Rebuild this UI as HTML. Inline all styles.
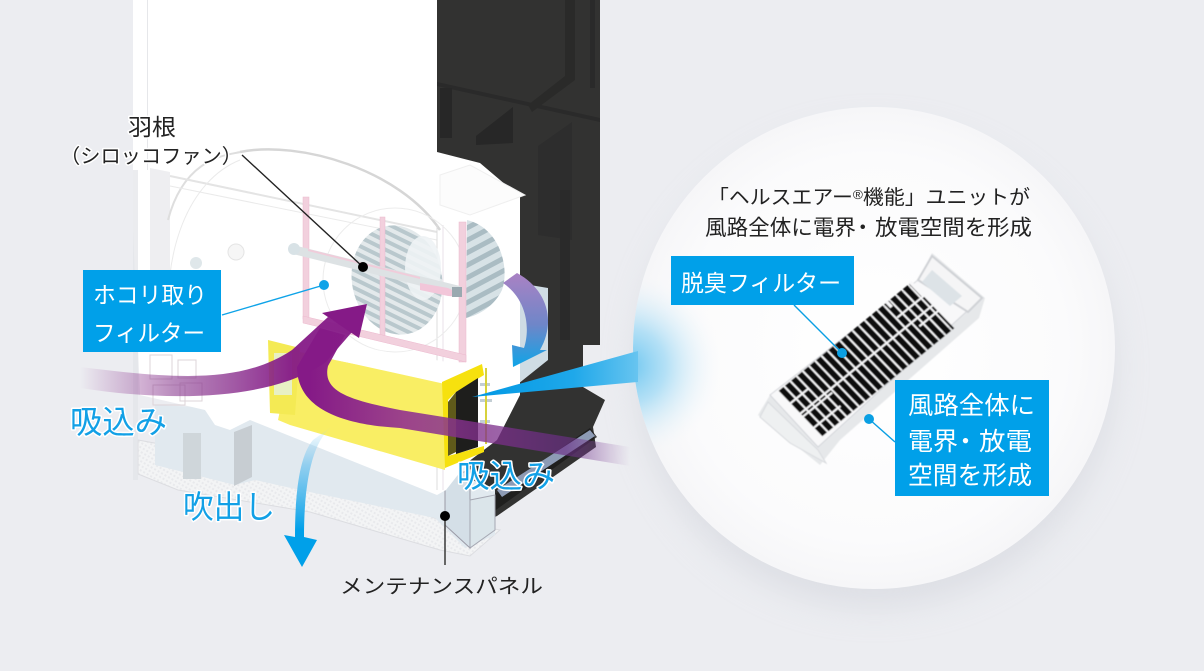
<!DOCTYPE html>
<html lang="ja"><head><meta charset="utf-8"><title>ヘルスエアー機能</title>
<style>html,body{margin:0;padding:0;background:#ecedf1;width:1204px;height:671px;overflow:hidden}
svg{display:block}
text{font-family:"Liberation Sans","Noto Sans CJK JP",sans-serif}
.halo{paint-order:stroke;stroke:#fff;stroke-width:3px;stroke-linejoin:round}
</style></head><body>
<svg width="1204" height="671" viewBox="0 0 1204 671" xmlns="http://www.w3.org/2000/svg">
<defs>
<linearGradient id="pL" gradientUnits="userSpaceOnUse" x1="80" y1="0" x2="290" y2="0"><stop offset="0" stop-color="#8a2a8c" stop-opacity="0"/><stop offset=".45" stop-color="#8a3c90" stop-opacity=".6"/><stop offset="1" stop-color="#851a87" stop-opacity=".95"/></linearGradient>
<linearGradient id="pR" gradientUnits="userSpaceOnUse" x1="310" y1="0" x2="630" y2="0"><stop offset="0" stop-color="#851a87"/><stop offset=".3" stop-color="#92318f" stop-opacity=".9"/><stop offset=".8" stop-color="#6c2f88" stop-opacity=".65"/><stop offset="1" stop-color="#8a4da0" stop-opacity="0"/></linearGradient>
<linearGradient id="bD" gradientUnits="userSpaceOnUse" x1="0" y1="430" x2="0" y2="530"><stop offset="0" stop-color="#9ed6f3" stop-opacity=".1"/><stop offset=".35" stop-color="#7ec8ef" stop-opacity=".8"/><stop offset="1" stop-color="#00a0e9"/></linearGradient>
<linearGradient id="arc" gradientUnits="userSpaceOnUse" x1="0" y1="275" x2="0" y2="365"><stop offset="0" stop-color="#a882c4"/><stop offset=".55" stop-color="#6f86c8"/><stop offset="1" stop-color="#13a3e6"/></linearGradient>
<linearGradient id="wedge" gradientUnits="userSpaceOnUse" x1="472" y1="0" x2="642" y2="0"><stop offset="0" stop-color="#0098e4"/><stop offset=".6" stop-color="#1fa8ea"/><stop offset="1" stop-color="#6cc6f0"/></linearGradient>
<radialGradient id="glow" gradientUnits="userSpaceOnUse" cx="628" cy="366" r="95"><stop offset="0" stop-color="#6cc6f0"/><stop offset=".4" stop-color="#a8dcf5" stop-opacity=".85"/><stop offset="1" stop-color="#f9f9fa" stop-opacity="0"/></radialGradient>
<radialGradient id="cir" cx=".5" cy=".5" r=".5"><stop offset="0" stop-color="#fff"/><stop offset=".8" stop-color="#fbfbfc"/><stop offset="1" stop-color="#f6f6f8"/></radialGradient>
<filter id="sh" x="-20%" y="-20%" width="140%" height="140%"><feGaussianBlur stdDeviation="16"/></filter>
<filter id="b1"><feGaussianBlur stdDeviation=".5"/></filter>
<pattern id="fan" width="8" height="8" patternUnits="userSpaceOnUse" patternTransform="rotate(38)"><rect width="8" height="8" fill="#e3e9eb"/><rect width="8" height="4" fill="#b9c8cd"/></pattern>
<pattern id="fan2" width="10" height="11" patternUnits="userSpaceOnUse" patternTransform="rotate(-28)"><rect width="10" height="11" fill="#d7e2e6"/><rect width="10" height="5" fill="#aabcc3"/></pattern>
<pattern id="mesh" width="4" height="4" patternUnits="userSpaceOnUse" patternTransform="rotate(30)"><rect width="4" height="4" fill="#f3f4f5"/><rect width="2" height="2" fill="#e8e9ec"/></pattern>
</defs>

<rect width="1204" height="671" fill="#ecedf1"/>

<!-- dark rear unit -->
<polygon points="437,0 600,0 600,345 583,345 583,387 605,400 593,427 596,447 497,516 480,524 466,500 466,420 437,420" fill="#323231"/>
<polygon points="437,82 600,118 600,122 437,86" fill="#2a2a2a"/>
<polygon points="565,0 575,0 575,80 532,112 528,105 565,76" fill="#2a2a29"/>
<rect x="590" y="0" width="5" height="88" fill="#2a2a2a"/>
<rect x="440" y="88" width="12" height="50" fill="#272727"/>
<polygon points="476,136 513,107 513,143 476,145" fill="#272727"/>
<polygon points="538,146 572,122 572,240 538,235" fill="#2d2d2d"/>
<rect x="560" y="190" width="10" height="150" fill="#2a2a2a"/>
<polygon points="478,506 590,428 597,437 482,520" fill="#1a1a1a" opacity=".8"/>
<polygon points="497,490 590,430 595,436 502,497" fill="#8d9bb5"/>
<!-- right cut light panel -->
<polygon points="518,283 548,288 548,360 518,384" fill="#cfdce4"/>

<!-- base -->
<polygon points="138,474 178,490 310,512 440,550 470,556 500,530 440,520 300,470 138,440" fill="url(#mesh)" stroke="#dcdde1"/>
<polygon points="155,405 255,410 280,430 450,470 495,490 495,535 465,548 435,518 300,490 255,480 235,485 155,465" fill="#e1e9ef"/>
<rect x="183" y="433" width="18" height="46" fill="#cfd6da"/>
<polygon points="234,432 252,425 252,477 234,486" fill="#c7cdd2"/>
<polygon points="445,478 470,470 470,548 445,525" fill="#d4dfe7" stroke="#9a9aa6"/>
<polygon points="470,500 495,495 495,530 470,548" fill="#dbe5ea" stroke="#a5a7b2"/>

<!-- main white body -->
<polygon points="133,0 437,0 437,152 480,163 520,197 520,395 497,440 468,462 446,490 437,495 250,420 230,430 215,425 205,410 140,395 133,230" fill="#fff"/>
<rect x="147" y="0" width="1" height="170" fill="#e6e7ea"/>
<polygon points="150,168 170,172 170,345 150,330" fill="#eeeef1"/>
<rect x="133" y="170" width="5" height="310" fill="#e3e4e8" opacity=".7"/>
<path d="M240 152 C300 140 400 170 440 230" fill="none" stroke="#d6d6d6" stroke-width="2.5"/>
<path d="M168 220 C185 155 230 155 240 152" fill="none" stroke="#dedede" stroke-width="2"/>
<path d="M170 176 L437 232" fill="none" stroke="#e4e4e4" stroke-width="2"/>
<path d="M170 340 C160 250 190 180 240 160 M170 186 L437 240" fill="none" stroke="#eaeaea"/>
<circle cx="196" cy="263" r="6" fill="#dfe7ea"/><circle cx="236" cy="252" r="8" fill="#f6f6f6" stroke="#e4e4e4"/>
<polygon points="440,175 470,165 525,195 470,215 440,205" fill="#fcfcfc" stroke="#efefef"/>
<line x1="437" y1="225" x2="437" y2="490" stroke="#ddd"/>
<line x1="443" y1="225" x2="443" y2="490" stroke="#e8e2e8"/>
<!-- print circuit scribbles -->
<g fill="none" stroke="#ddd4d8"><rect x="150" y="355" width="22" height="24"/><rect x="178" y="360" width="18" height="18"/><rect x="153" y="385" width="32" height="20"/><rect x="180" y="383" width="22" height="18"/></g>

<!-- fan -->
<circle cx="395" cy="280" r="72" fill="none" stroke="#ececec"/>
<ellipse cx="397" cy="280" rx="45" ry="55" transform="rotate(-12 397 280)" fill="url(#fan)"/>
<ellipse cx="423" cy="268" rx="18" ry="32" fill="#eef3f5" opacity=".9"/>
<path d="M467 220 C500 228 510 268 502 290 C495 305 480 315 466 318 Z" fill="url(#fan2)"/>

<!-- pink frame -->
<g fill="#f2d0dd" stroke="#ecb9ce" stroke-width=".5">
<rect x="303" y="197" width="6" height="122"/>
<rect x="380" y="217" width="5" height="120"/>
<rect x="459" y="222" width="7" height="140"/>
<polygon points="303,316 466,355 466,362 303,323"/>
</g>
<!-- rod -->
<polygon points="293,245 460,286 462,296 293,254" fill="#dde2e4"/>
<polygon points="308,249 420,277 420,279 308,251" fill="#f0ccda"/>
<circle cx="294" cy="249" r="6" fill="#d8e2e6"/>
<polygon points="420,283 448,288 462,295 462,297 448,296 420,290" fill="#f2c6d9"/>
<rect x="452" y="287" width="10" height="10" fill="#9aa9b0"/>

<!-- yellow filter -->
<polygon points="293,348 335,360 445,382 445,470 290,425 278,420" fill="#f9ee64"/>
<polygon points="268,340 300,348 295,415 270,413" fill="#f4ea54"/>
<rect x="274" y="353" width="18" height="42" fill="#e8f0c4"/>
<polygon points="299,337 465,365 495,362 495,370 445,384 300,352" fill="#fff"/>
<!-- yellow/dark cartridge -->
<polygon points="442,382 482,364 484,375 456,392 448,400 448,456 484,446 484,452 445,468" fill="#f6e10e"/>
<polygon points="456,392 478,378 478,447 456,454" fill="#1e1e1c"/>
<polygon points="448,402 456,392 456,452 448,456" fill="#5f5a1a"/>
<g fill="#c3ced4"><rect x="480" y="383" width="10" height="3"/><rect x="480" y="399" width="12" height="3"/><rect x="480" y="420" width="10" height="3"/></g>
<rect x="485" y="368" width="2" height="76" fill="#d7d23c"/>

<!-- circle -->
<circle cx="875" cy="368" r="240" fill="#cfd1d9" opacity=".5" filter="url(#sh)"/>
<circle cx="874" cy="348" r="241" fill="url(#cir)"/>
<clipPath id="cc"><circle cx="874" cy="348" r="241"/></clipPath>
<rect x="630" y="240" width="120" height="240" fill="url(#glow)" clip-path="url(#cc)"/>
<polygon points="472,397 638,351 638,382" fill="url(#wedge)"/>

<!-- arrows -->
<path d="M297 367 C297 410 345 425 400 428 L630 466 L630 447 L400 410 C350 400 322 392 328 366 L345 335 L320 328 Z" fill="url(#pR)"/>
<path d="M80 367 C170 378 240 385 292 350 L328 317 L352 332 L326 362 C280 395 190 405 80 388 Z" fill="url(#pL)"/>
<polygon points="367,304 322,313 359,338" fill="#851a87"/>
<path d="M503 283 L517 273 C548 290 556 322 540 350 L547 350 L513 367 L512 345 L524 348 C530 330 528 300 503 283 Z" fill="url(#arc)"/>
<path d="M331 427 C310 445 304 490 304 537 L317 540 L302 567 L284 535 L295 537 C295 490 300 455 313 440 Z" fill="url(#bD)"/>

<!-- leaders -->
<line x1="242" y1="155" x2="363" y2="267" stroke="#222" stroke-width="1.4"/>
<circle cx="363" cy="267" r="5" fill="#000"/>
<circle cx="324" cy="285" r="5" fill="#0ea3e8"/>
<line x1="222" y1="315" x2="324" y2="285" stroke="#0ea3e8" stroke-width="1.4"/>
<line x1="445" y1="516" x2="445" y2="565" stroke="#444" stroke-width="1.6"/>
<circle cx="445" cy="516" r="5" fill="#000"/>

<!-- filter cartridge -->
<g filter="url(#b1)">
<polygon points="770,395 918,280 932,253 985,298 979,318 840,440 820,465 758,415" fill="#e6e8ea"/>
<polygon points="770,395 918,280 932,262 976,298 966,312 818,447" fill="#f8f8f9" stroke="#d4d6da"/>
<polygon points="932,256 982,298 968,312 918,280" fill="#f5f5f6" stroke="#cfd1d5" stroke-width="2"/>
<polygon points="932,270 962,296 950,306 922,282" fill="#dde3e7"/>
<polygon points="768,402 818,450 826,463 790,443 760,417" fill="#eef0f1" stroke="#d8dade"/>
<g transform="matrix(1.32,-1.08,0.45,0.47,778,390)">
<line x1="0" y1="25" x2="100" y2="25" stroke="#111" stroke-width="47" stroke-dasharray="3.6 1.1"/>
<line x1="0" y1="75" x2="100" y2="75" stroke="#111" stroke-width="47" stroke-dasharray="3.6 1.1"/>
<g stroke="#f8f8f9" stroke-width="3" fill="none">
<path d="M-1 28H14M-1 56H22M-1 80H20M80 30H101M86 62H101"/>
<path d="M82 0V12M100 0V30" stroke-width="2"/>
</g>
</g>
</g>
<circle cx="842" cy="353" r="5" fill="#0a9fe3"/>
<line x1="794" y1="305" x2="842" y2="353" stroke="#0a9fe3" stroke-width="1.4"/>
<circle cx="869" cy="419" r="5" fill="#0a9fe3"/>
<line x1="869" y1="419" x2="895" y2="442" stroke="#0a9fe3" stroke-width="1.4"/>

<!-- boxes -->
<rect x="83" y="270" width="138" height="82" fill="#00a0e9"/>
<rect x="671" y="256" width="183" height="49" fill="#00a0e9"/>
<rect x="895" y="380" width="154" height="116" fill="#00a0e9"/>

<g fill="#fff" font-size="23">
<text x="93" y="303" textLength="114" lengthAdjust="spacingAndGlyphs">ホコリ取り</text>
<text x="93" y="341" textLength="112" lengthAdjust="spacingAndGlyphs">フィルター</text>
<text x="681" y="291" textLength="160" lengthAdjust="spacingAndGlyphs">脱臭フィルター</text>
<g font-size="25">
<text x="908" y="414" textLength="127" lengthAdjust="spacingAndGlyphs">風路全体に</text>
<text x="908" y="450" textLength="50" lengthAdjust="spacingAndGlyphs">電界</text>
<text x="953" y="450">・</text>
<text x="979" y="450" textLength="53" lengthAdjust="spacingAndGlyphs">放電</text>
<text x="908" y="484" textLength="124" lengthAdjust="spacingAndGlyphs">空間を形成</text>
</g>
</g>

<g fill="#222" font-size="20">
<text class="halo" x="128" y="135" font-size="23" textLength="48" lengthAdjust="spacingAndGlyphs">羽根</text>
<text class="halo" x="60" y="163" textLength="182" lengthAdjust="spacingAndGlyphs">（シロッコファン）</text>
<text x="708" y="204" textLength="322" lengthAdjust="spacingAndGlyphs">「ヘルスエアー<tspan font-size="13" dy="-5">®</tspan><tspan dy="5">機能」ユニットが</tspan></text>
<g font-size="21.5">
<text x="705" y="235" textLength="151" lengthAdjust="spacingAndGlyphs">風路全体に電界</text>
<text x="852" y="235">・</text>
<text x="875" y="235" textLength="157" lengthAdjust="spacingAndGlyphs">放電空間を形成</text>
</g>
<text x="340" y="593" textLength="203" lengthAdjust="spacingAndGlyphs">メンテナンスパネル</text>
</g>

<g fill="#12a0e6" font-size="32">
<text x="70" y="433" textLength="97" lengthAdjust="spacingAndGlyphs" class="halo">吸込み</text>
<text x="457" y="487" textLength="98" lengthAdjust="spacingAndGlyphs" class="halo">吸込み</text>
<text x="183" y="518" textLength="92" lengthAdjust="spacingAndGlyphs" class="halo">吹出し</text>
</g>
</svg>
</body></html>
